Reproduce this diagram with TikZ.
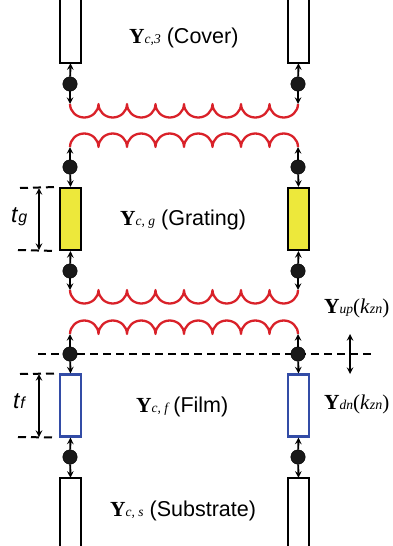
\documentclass[tikz,border=0pt]{standalone}
\usepackage{fontspec}
\usetikzlibrary{arrows, positioning}
\setmainfont{Liberation Sans}
\newfontfamily\serifY{Liberation Serif}
\definecolor{coilred}{rgb}{0.85, 0.13, 0.16}
\definecolor{gratingyellow}{rgb}{0.93, 0.91, 0.23}
\definecolor{filmblue}{rgb}{0.2, 0.3, 0.65}
\newcommand{\Yname}[1]{{\serifY\fontsize{21.5}{22}\selectfont\textbf{Y}\fontsize{13.5}{14}\selectfont\textit{#1}}}
\newcommand{\Ywave}{{\serifY\fontsize{21}{21}\selectfont(\textit{k}{\fontsize{14}{14}\selectfont\textit{zn}})}}
\tikzset{junction/.style={draw=black, circle, fill=black!90, inner sep=0pt, minimum size=14.5pt}}
\tikzset{layer/.style={draw=black, line width=2.1pt, inner sep=0pt, minimum width=21pt, minimum height=62pt}}
\tikzset{grating/.style={layer, fill=gratingyellow}}
\tikzset{film/.style={layer, draw=filmblue}}
\tikzset{port/.style={inner sep=0pt, minimum width=21pt}}
\tikzset{stub/.style={line width=2.1pt}}
\tikzset{link/.style={line width=1.9pt, -stealth}}
\tikzset{coil/.style={color=coilred, line width=2.3pt, line join=round}}
\tikzset{cut/.style={line width=2pt, dash pattern=on 8pt off 5pt}}
\tikzset{cutshort/.style={cut, shorten >=4pt}}
\tikzset{size/.style={line width=1.9pt, stealth-stealth}}
\tikzset{label/.style={inner sep=0pt, anchor=base west, font=\fontsize{21.5}{22}\selectfont}}
\tikzset{tlabel/.style={inner sep=0pt, anchor=base west, font=\fontsize{23}{23}\selectfont}}
\begin{document}
\begin{tikzpicture}[x=1pt, y=-1pt]
    \useasboundingbox (0, 0) rectangle (392, 546);

    % upper and lower half spaces
    \node [port, minimum height=63pt] (CoverL) at (70.5, 31.5) {};
    \node [port, minimum height=63pt] (CoverR) at (298.5, 31.5) {};
    \node [port, minimum height=68pt] (SubL) at (70.5, 512) {};
    \node [port, minimum height=68pt] (SubR) at (298.5, 512) {};
    \foreach \P in {CoverL, CoverR}
        \draw [stub] (\P.north west) -- (\P.south west) -- (\P.south east) -- (\P.north east);
    \foreach \P in {SubL, SubR}
        \draw [stub] (\P.south west) -- (\P.north west) -- (\P.north east) -- (\P.south east);

    \node [grating] (GratL) at (70.5, 219) {};
    \node [grating] (GratR) at (298.5, 219) {};
    \node [film] (FilmL) at (70.5, 405.5) {};
    \node [film] (FilmR) at (298.5, 405.5) {};

    \draw [cut] (38, 354) -- (372, 354);

    % junctions
    \foreach \s/\x in {L/70, R/298} {
        \node [junction] (J1\s) at (\x, 84) {};
        \node [junction] (J2\s) at (\x, 167) {};
        \node [junction] (J3\s) at (\x, 271) {};
        \node [junction] (J4\s) at (\x, 354) {};
        \node [junction] (J5\s) at (\x, 457) {};

        \coordinate (A1\s) at (\x, 104);
        \coordinate (A2\s) at (\x, 147);
        \coordinate (A3\s) at (\x, 290);
        \coordinate (A4\s) at (\x, 334);
    }

    \foreach \s in {L, R} {
        \draw [link] (J1\s) -- (A1\s);
        \draw [link] (J1\s) -- (Cover\s.south);
        \draw [link] (J2\s) -- (A2\s);
        \draw [link] (J2\s) -- (Grat\s.north);
        \draw [link] (J3\s) -- (Grat\s.south);
        \draw [link] (J3\s) -- (A3\s);
        \draw [link] (J4\s) -- (A4\s);
        \draw [link] (J4\s) -- (Film\s.north);
        \draw [link] (J5\s) -- (Film\s.south);
        \draw [link] (J5\s) -- (Sub\s.north);
    }

    % coils, 8 turns each
    \draw [coil] (A1L) \foreach \i in {1,...,8} { arc [start angle=180, end angle=0, x radius=14.25, y radius=13.5] };
    \draw [coil] (A2L) \foreach \i in {1,...,8} { arc [start angle=180, end angle=360, x radius=14.25, y radius=13.5] };
    \draw [coil] (A3L) \foreach \i in {1,...,8} { arc [start angle=180, end angle=0, x radius=14.25, y radius=13.5] };
    \draw [coil] (A4L) \foreach \i in {1,...,8} { arc [start angle=180, end angle=360, x radius=14.25, y radius=13.5] };

    % thickness marks
    \coordinate (Tg1) at (39, 188);
    \coordinate (Tg2) at (39, 250);
    \coordinate (Tf1) at (39, 374);
    \coordinate (Tf2) at (39, 437);
    \draw [cutshort] (20, 188) -- (GratL.north west);
    \draw [cutshort] (18, 250) -- (GratL.south west);
    \draw [cutshort] (20, 374) -- (FilmL.north west);
    \draw [cutshort] (18, 437) -- (FilmL.south west);
    \draw [size] (Tg1) -- (Tg2);
    \draw [size] (Tf1) -- (Tf2);

    \coordinate (Dir1) at (350, 334);
    \coordinate (Dir2) at (350, 374);
    \draw [size] (Dir1) -- (Dir2);

    % labels
    \node [label] (LCover) at (129, 43) {\Yname{c,3} (Cover)};
    \node [label] (LGrat) at (120, 225) {\Yname{c, g} (Grating)};
    \node [label] (LFilm) at (136, 412) {\Yname{c, f}\,(Film)};
    \node [label] (LSub) at (110, 516) {\Yname{c, s} (Substrate)};
    \node [label] (LUp) at (324, 313) {\Yname{up}\Ywave};
    \node [label] (LDn) at (324, 409) {\Yname{dn}\Ywave};
    \node [tlabel] (Ltg) at (11, 222) {\textit{t}{\fontsize{16}{16}\selectfont\textit{g}}};
    \node [tlabel] (Ltf) at (13, 408) {\textit{t}{\fontsize{16}{16}\selectfont\textit{f}}};
\end{tikzpicture}
\end{document}
